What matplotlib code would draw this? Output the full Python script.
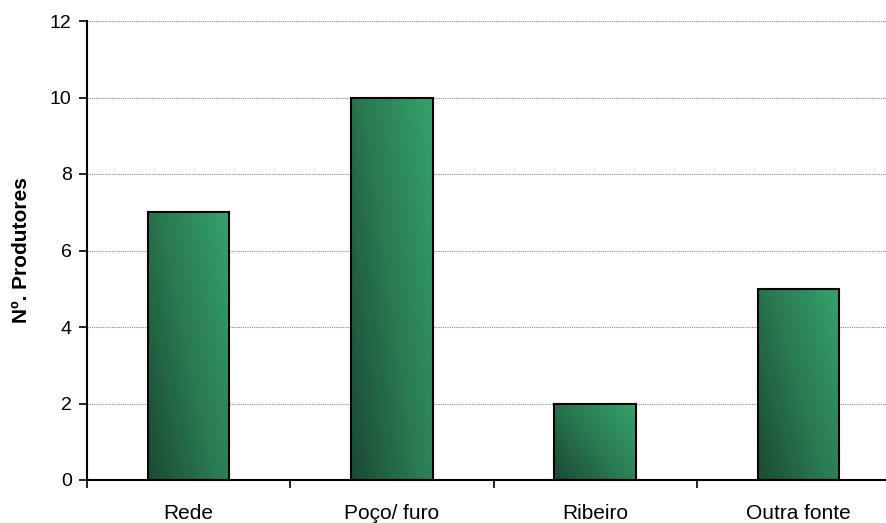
import numpy as np
import matplotlib.pyplot as plt
from matplotlib.colors import LinearSegmentedColormap

plt.rcParams['font.family'] = ['Liberation Sans', 'DejaVu Sans']

# Data
categories = ["Rede", "Poço/ furo", "Ribeiro", "Outra fonte"]
produtores = [7, 10, 2, 5]

fig = plt.figure(figsize=(8.86, 5.23), dpi=100)
ax = fig.add_axes([87 / 886, 43 / 523, 813 / 886, 459 / 523])

x = np.arange(len(categories))
bars = ax.bar(x, produtores, width=0.4, color="none", edgecolor="black",
              linewidth=1.5, zorder=3)

# gradient fill, dark bottom-left to lighter top-right
cmap = LinearSegmentedColormap.from_list("verde", ["#1b4a33", "#2a7a52", "#35a26d"])
gx, gy = np.meshgrid(np.linspace(0, 1, 100), np.linspace(0, 1, 100))
grad = 0.6 * gx + 0.4 * gy
for b in bars:
    x0, y0 = b.get_x(), b.get_y()
    w, h = b.get_width(), b.get_height()
    im = ax.imshow(grad, cmap=cmap, extent=[x0, x0 + w, y0, y0 + h],
                   origin="lower", aspect="auto", zorder=2)
    im.set_clip_path(b)

ax.set_xlim(-0.5, 3.5)
ax.set_ylim(0, 12)
ax.set_yticks(range(0, 13, 2))
ax.set_xticks(x)
ax.set_xticklabels(categories, fontsize=15)
ax.tick_params(axis="x", length=0, pad=17)
ax.set_xticks(np.arange(-0.5, 4, 1), minor=True)
ax.tick_params(axis="x", which="minor", length=6, width=1.2, direction="out")
ax.tick_params(axis="y", labelsize=14, length=6, width=1.2, direction="out", pad=5)
ax.yaxis.grid(True, linestyle=(0, (1, 1)), color="#888888", linewidth=0.8, zorder=0)
ax.set_axisbelow(True)

for s in ["top", "right"]:
    ax.spines[s].set_visible(False)
for s in ["left", "bottom"]:
    ax.spines[s].set_linewidth(1.5)

ax.set_ylabel("Nº. Produtores", fontsize=15, fontweight="bold", labelpad=14)

plt.savefig("out.png", dpi=100)
